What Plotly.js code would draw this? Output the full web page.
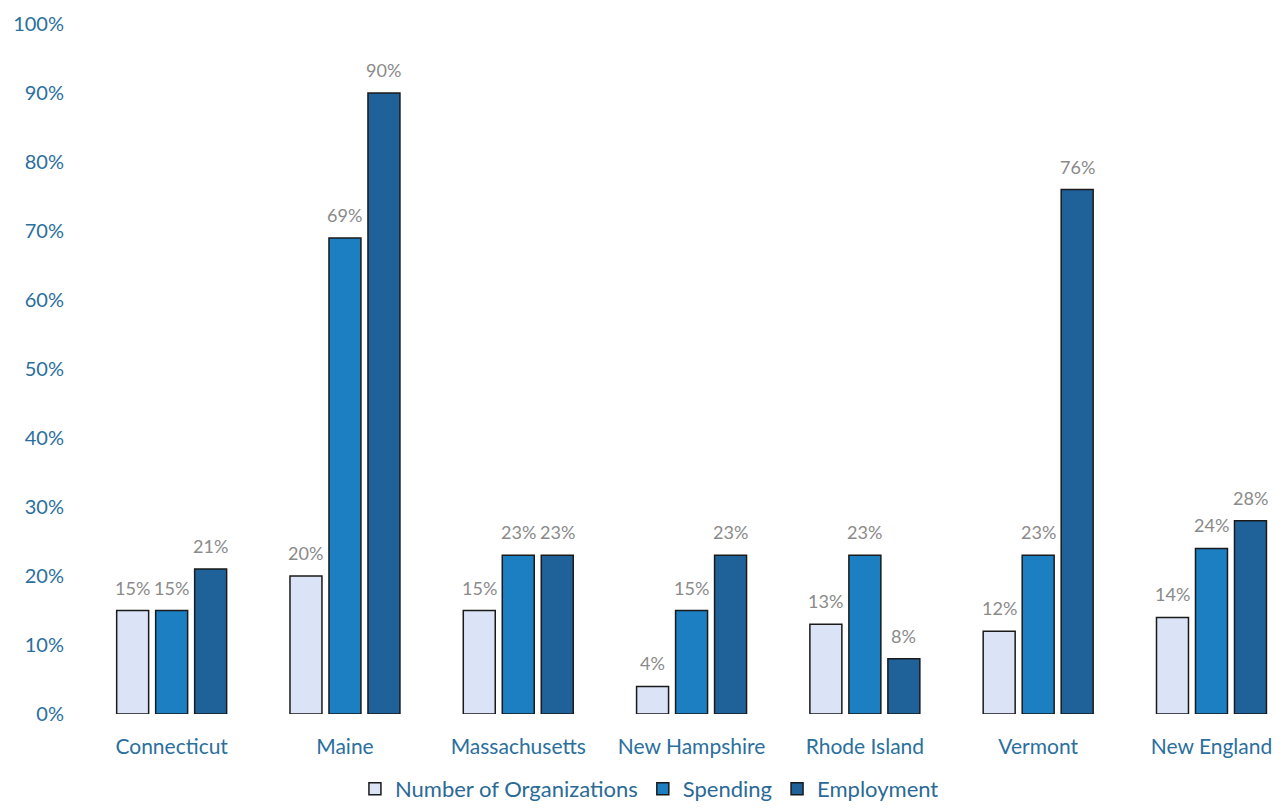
<!DOCTYPE html>
<html>
<head>
<meta charset="utf-8">
<script src="https://cdn.plot.ly/plotly-3.0.1.min.js"></script>
<style>html,body{margin:0;padding:0;background:#fff;}#chart{width:1286px;height:810px;}</style>
</head>
<body>
<div id="chart"></div>
<script>
const categories = ["Connecticut", "Maine", "Massachusetts", "New Hampshire", "Rhode Island", "Vermont", "New England"];
const organizations = [0.15, 0.20, 0.15, 0.04, 0.13, 0.12, 0.14];
const spending = [0.15, 0.69, 0.23, 0.15, 0.23, 0.23, 0.24];
const employment = [0.21, 0.90, 0.23, 0.23, 0.08, 0.76, 0.28];
const yTicks = [0, 0.1, 0.2, 0.3, 0.4, 0.5, 0.6, 0.7, 0.8, 0.9, 1.0];
const yTickLabels = ["0%", "10%", "20%", "30%", "40%", "50%", "60%", "70%", "80%", "90%", "100%"];

const FONT = "Lato, 'Open Sans', sans-serif";
const BARGAP = 0.325;
const labelFont = {family: FONT, size: 18, color: "#8a8a8a"};

const series = [
  {name: "Number of Organizations", vals: organizations, color: "#dbe3f6"},
  {name: "Spending", vals: spending, color: "#1b7fc2"},
  {name: "Employment", vals: employment, color: "#1f6299"}
];

const data = series.map(s => ({
  type: "bar", name: s.name, x: categories, y: s.vals,
  marker: {color: s.color, line: {color: "#1a1a1a", width: 1.5}},
  hoverinfo: "none"
}));

const slot = (1 - BARGAP) / series.length;
const annotations = [];
series.forEach((s, i) => {
  s.vals.forEach((v, j) => {
    annotations.push({
      xref: "x", yref: "y", x: j + (i - (series.length - 1) / 2) * slot, y: v,
      text: Math.round(v * 100) + "%", showarrow: false,
      yanchor: "bottom", yshift: 10, font: labelFont
    });
  });
});

const layout = {
  width: 1286, height: 810,
  paper_bgcolor: "#fff", plot_bgcolor: "#fff",
  margin: {l: 85, r: 0, t: 24, b: 96},
  barmode: "group", bargap: BARGAP, bargroupgap: 0.18,
  showlegend: true,
  legend: {orientation: "h", x: 0.505, xref: "container", xanchor: "center", yref: "container", y: 0, yanchor: "bottom",
    font: {family: FONT, size: 22, color: "#2a6a96"}, traceorder: "normal", entrywidth: 0,
    tracegroupgap: 0, borderwidth: 0},
  xaxis: {type: "category", range: [-0.5, 6.43], showgrid: false, showline: false, zeroline: false,
    ticks: "", tickfont: {family: FONT, size: 21, color: "#2a6f9e"}, ticklabelstandoff: 18},
  yaxis: {range: [0, 1], tickvals: yTicks, ticktext: yTickLabels, showgrid: false, showline: false,
    zeroline: false, ticks: "", tickfont: {family: FONT, size: 20, color: "#2a6f9e"}, ticklabelstandoff: 20},
  annotations: annotations,
  font: {family: FONT}
};

Plotly.newPlot("chart", data, layout, {displayModeBar: false, staticPlot: true});
</script>
</body>
</html>
